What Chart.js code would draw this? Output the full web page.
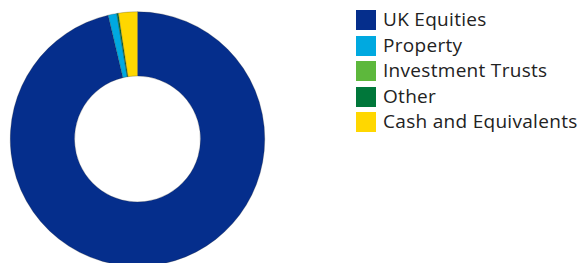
<!DOCTYPE html>
<html>
<head>
<meta charset="utf-8">
<script src="https://cdn.jsdelivr.net/npm/chart.js@4"></script>
<style>
  html, body { margin: 0; padding: 0; background: #fff; }
  body { width: 579px; height: 263px; overflow: hidden; position: relative; font-family: "Open Sans", sans-serif; }
  #wrap { position: absolute; left: 0; top: 0; width: 275px; height: 278px; }
  #legend { position: absolute; left: 356px; top: 10px; margin: 0; padding: 0; list-style: none; }
  #legend li { height: 25.6px; display: flex; align-items: flex-start; white-space: nowrap; }
  #legend .box { width: 20px; height: 20px; margin-right: 7px; flex: none; }
  #legend .txt { font-size: 19px; letter-spacing: 0.3px; line-height: 20px; color: #222; margin-top: -1px; }
</style>
</head>
<body>
<div id="wrap"><canvas id="chart"></canvas></div>
<ul id="legend"></ul>
<script>
// Asset allocation doughnut
const labels = ['UK Equities', 'Property', 'Investment Trusts', 'Other', 'Cash and Equivalents'];
const values = [96.3, 1.1, 0.0, 0.2, 2.4];
const colors = ['#052E8C', '#00A9E0', '#5DB83C', '#00773A', '#FFD700'];

const chart = new Chart(document.getElementById('chart'), {
    type: 'doughnut',
    data: {
        labels: labels,
        datasets: [{
            data: values,
            backgroundColor: colors,
            borderColor: 'rgba(40,40,40,0.5)',
            borderWidth: 0.5
        }]
    },
    options: {
        responsive: true,
        maintainAspectRatio: false,
        animation: false,
        cutout: '49.5%',
        layout: { padding: 10 },
        plugins: {
            legend: { display: false },
            tooltip: { enabled: false }
        }
    }
});

// Legend built from the same arrays
const ul = document.getElementById('legend');
ul.innerHTML = labels.map((l, i) =>
    `<li><span class="box" style="background:${colors[i]}"></span><span class="txt">${l}</span></li>`
).join('');
</script>
</body>
</html>
